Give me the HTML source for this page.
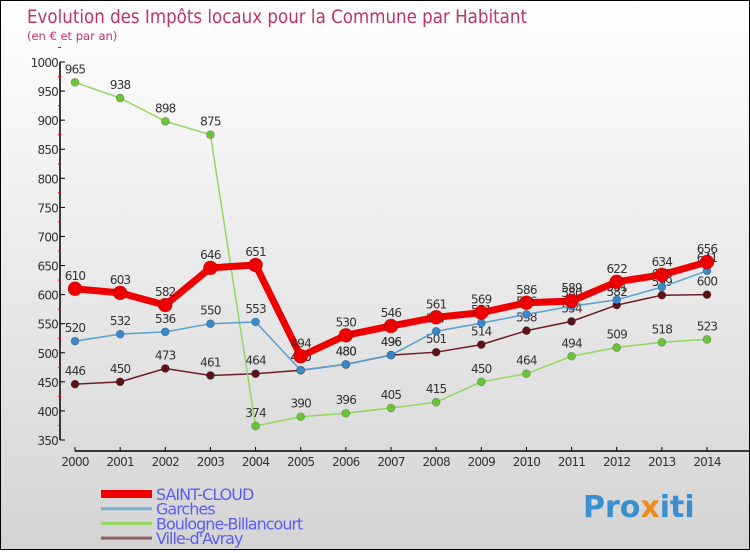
<!DOCTYPE html>
<html><head><meta charset="utf-8"><style>
body{margin:0;width:750px;height:550px;overflow:hidden}
#c{position:relative;width:748px;height:548px;border:1px solid #000;background:linear-gradient(#ffffff,#d4d4d4);font-family:"DejaVu Sans","Liberation Sans",sans-serif}
svg text{font-family:"DejaVu Sans","Liberation Sans",sans-serif}
</style></head><body>
<div id="c">
<svg id="s" width="748" height="548">
<text x="26" y="22" font-size="19" fill="#c0306a" textLength="500" lengthAdjust="spacingAndGlyphs">Evolution des Impôts locaux pour la Commune par Habitant</text>
<text x="26" y="39" font-size="11.5" fill="#c0306a">(en € et par an)</text>
<g id="axes"></g><g id="series"></g><g id="legend"></g>
<text x="582" y="516" font-size="30" font-weight="bold" fill="#3a8fd0">Pro<tspan fill="#f08a1c">x</tspan>iti</text>
</svg></div>
<script>
const years=[2000,2001,2002,2003,2004,2005,2006,2007,2008,2009,2010,2011,2012,2013,2014];
const yTicks=[350,400,450,500,550,600,650,700,750,800,850,900,950,1000];
const names=["SAINT-CLOUD","Garches","Boulogne-Billancourt","Ville-d'Avray"];
const stCloud=[610,603,582,646,651,494,530,546,561,569,586,589,622,634,656];
const garches=[520,532,536,550,553,470,480,496,537,551,566,580,591,613,641];
const boulogne=[965,938,898,875,374,390,396,405,415,450,464,494,509,518,523];
const avray=[446,450,473,461,464,470,480,496,501,514,538,554,582,599,600];
const NS="http://www.w3.org/2000/svg";
const X=i=>74+i*(632/14);
const Y=v=>439-(v-350)*(378/650);
function mk(t,a,p){const e=document.createElementNS(NS,t);for(const k in a)e.setAttribute(k,a[k]);p.appendChild(e);return e;}
const ax=document.getElementById('axes');
let e=mk('line',{x1:59,y1:Y(1000),x2:59,y2:Y(350),stroke:'#000','stroke-width':1.5},ax);

yTicks.forEach(v=>{
 let t=mk('line',{x1:59,y1:Y(v),x2:64,y2:Y(v),stroke:'#000'},ax);
 
 let m=mk('line',{x1:57,y1:Y(v+25),x2:60,y2:Y(v+25),stroke:'#e00'},ax);
 
 let l=mk('text',{x:57,y:Y(v)+5,'font-size':12,fill:'#333','text-anchor':'end','letter-spacing':'-0.8'},ax);l.textContent=v;
 
});
e=mk('line',{x1:74,y1:450,x2:748,y2:450,stroke:'#000','stroke-width':1.5},ax);

years.forEach((y,i)=>{
 let t=mk('line',{x1:X(i),y1:446,x2:X(i),y2:450,stroke:'#000'},ax);
 
 let l=mk('text',{x:X(i),y:465,'font-size':12,fill:'#333','text-anchor':'middle','letter-spacing':'-0.8'},ax);l.textContent=y;
 
});
const sg=document.getElementById('series');
const cfg=[[avray,'#6b1e24','#5a1418',1.5,4,'ville-d-avray'],[boulogne,'#90d860','#6cc23a',1.5,4,'boulogne'],[garches,'#5a9fd0','#3a88c8',1.5,4,'garches'],[stCloud,'#ee0000','#ee0000',7,7,'saint-cloud']];
cfg.forEach(([d,lc,pc,w,r,n])=>{
 let p=mk('polyline',{points:d.map((v,i)=>X(i)+','+Y(v)).join(' '),fill:'none',stroke:lc,'stroke-width':w,'stroke-linejoin':'round'},sg);
 
 d.forEach((v,i)=>{
  let c=mk('circle',{cx:X(i),cy:Y(v),r:r,fill:pc,stroke:'rgba(0,0,0,0.3)','stroke-width':0.6},sg);
  
  let l=mk('text',{x:X(i),y:Y(v)-9,'font-size':12,fill:'#333','text-anchor':'middle','letter-spacing':'-0.8'},sg);l.textContent=v;
  
 });
});
const lg=document.getElementById('legend');
const lcol=['#ee0000','#7aaed0','#90d860','#8a6060'],lw=[8,3,3,3];
names.forEach((n,i)=>{
 const y=493+i*14.7;
 let l=mk('line',{x1:100,y1:y,x2:151,y2:y,stroke:lcol[i],'stroke-width':lw[i]},lg);
 
 let t=mk('text',{x:155,y:y+6,'font-size':16,fill:'#5a5ff0','letter-spacing':'-1'},lg);t.textContent=n;
 
});
</script>
</body></html>
